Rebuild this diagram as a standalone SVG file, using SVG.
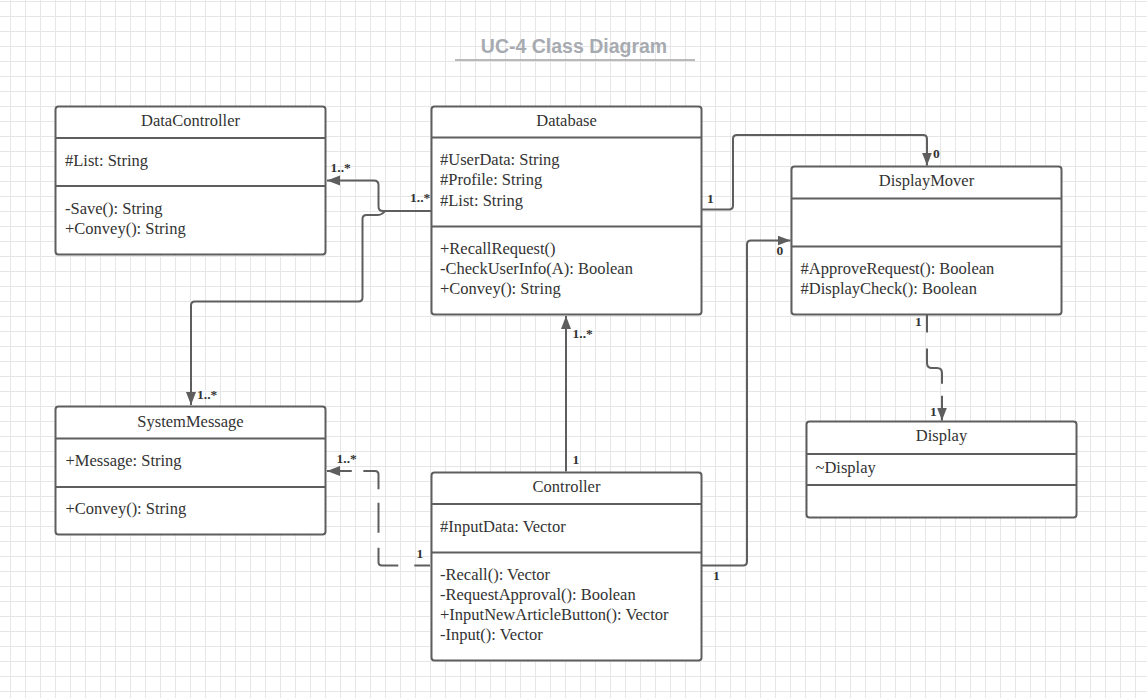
<svg xmlns="http://www.w3.org/2000/svg" width="1147" height="698" viewBox="0 0 1147 698">
<defs>
<pattern id="grid" patternUnits="userSpaceOnUse" x="10" y="1" width="15" height="15">
<rect x="0" y="0" width="1" height="15" fill="#e6e6e6"/>
<rect x="0" y="0" width="15" height="1" fill="#e6e6e6"/>
</pattern>
<marker id="arr" markerUnits="userSpaceOnUse" markerWidth="14" markerHeight="12" refX="13" refY="5" orient="auto">
<path d="M0,0 L13,5 L0,10 z" fill="#5e5e5e"/>
</marker>
</defs>
<style>
.box{fill:#ffffff;stroke:#5e5e5e;stroke-width:2}
.div{stroke:#5e5e5e;stroke-width:2}
.t{font-family:"Liberation Serif","Times New Roman",serif;font-size:16.5px;fill:#333333}
.h{text-anchor:middle}
.m{font-family:"Liberation Serif","Times New Roman",serif;font-size:13.5px;font-weight:bold;fill:#333333}
.c{fill:none;stroke:#5e5e5e;stroke-width:2}
</style>
<rect width="1147" height="698" fill="#ffffff"/>
<rect width="1147" height="698" fill="url(#grid)"/>
<g id="title">
<text x="574" y="53" text-anchor="middle" font-family="Liberation Sans, Arial, sans-serif" font-size="19.5" font-weight="bold" fill="#a7abb1">UC-4 Class Diagram</text>
<line x1="455" y1="60" x2="695" y2="60" stroke="#a3a3a3" stroke-width="1.5"/>
</g>
<g id="connectors">
<path class="c" d="M431.5,211 H383 Q378.5,211 378.5,206.5 V185 Q378.5,180.5 374,180.5 H327" marker-end="url(#arr)"/>
<path class="c" d="M385,211 Q382,215 377,215 H366.5 Q362.5,215 362.5,219 V297.5 Q362.5,301.5 358.5,301.5 H195 Q191,301.5 191,305.5 V405" marker-end="url(#arr)"/>
<path class="c" d="M701.5,209.5 H729 Q733,209.5 733,205.5 V139 Q733,135 737,135 H923 Q927,135 927,139 V165.5" marker-end="url(#arr)"/>
<path class="c" d="M701.5,565.5 H743 Q747,565.5 747,561.5 V244.5 Q747,240.5 751,240.5 H790.5" marker-end="url(#arr)"/>
<path class="c" d="M566,471.5 V316" marker-end="url(#arr)"/>
<path class="c" d="M430,565.5 H382 Q378.5,565.5 378.5,562 V474.5 Q378.5,471 375,471 H327" stroke-dasharray="15.7 16 36.1 15 30 13.4 32 11.6 200" marker-end="url(#arr)"/>
<path class="c" d="M927,314.5 V363 Q927,368 932,368 H937 Q942,368 942,373 V420.5" stroke-dasharray="18 16 46 12 200" marker-end="url(#arr)"/>
<text class="m" x="330.5" y="172">1..*</text>
<text class="m" x="410" y="202">1..*</text>
<text class="m" x="707" y="203">1</text>
<text class="m" x="933" y="158">0</text>
<text class="m" x="776.5" y="255">0</text>
<text class="m" x="713" y="580">1</text>
<text class="m" x="572.5" y="337.5">1..*</text>
<text class="m" x="572.5" y="464">1</text>
<text class="m" x="197" y="398.5">1..*</text>
<text class="m" x="336.5" y="463">1..*</text>
<text class="m" x="416.5" y="558">1</text>
<text class="m" x="915" y="326">1</text>
<text class="m" x="930" y="416">1</text>
</g>
<g id="DataController">
<rect class="box" x="55.5" y="106.5" width="270" height="148" rx="3"/>
<line class="div" x1="55.5" y1="138" x2="325.5" y2="138"/>
<line class="div" x1="55.5" y1="186" x2="325.5" y2="186"/>
<text class="t h" x="190.5" y="126">DataController</text>
<text class="t" x="65" y="166">#List: String</text>
<text class="t" x="65" y="214">-Save(): String</text>
<text class="t" x="65" y="234">+Convey(): String</text>
</g>
<g id="Database">
<rect class="box" x="431.5" y="106.5" width="270" height="208" rx="3"/>
<line class="div" x1="431.5" y1="137.5" x2="701.5" y2="137.5"/>
<line class="div" x1="431.5" y1="226.5" x2="701.5" y2="226.5"/>
<text class="t h" x="566.5" y="126">Database</text>
<text class="t" x="440" y="165">#UserData: String</text>
<text class="t" x="440" y="185">#Profile: String</text>
<text class="t" x="440" y="206">#List: String</text>
<text class="t" x="440" y="254">+RecallRequest()</text>
<text class="t" x="440" y="274">-CheckUserInfo(A): Boolean</text>
<text class="t" x="440" y="294">+Convey(): String</text>
</g>
<g id="DisplayMover">
<rect class="box" x="791.5" y="166.5" width="270" height="148" rx="3"/>
<line class="div" x1="791.5" y1="198.5" x2="1061.5" y2="198.5"/>
<line class="div" x1="791.5" y1="246.5" x2="1061.5" y2="246.5"/>
<text class="t h" x="926.5" y="186">DisplayMover</text>
<text class="t" x="800.5" y="274">#ApproveRequest(): Boolean</text>
<text class="t" x="800.5" y="294">#DisplayCheck(): Boolean</text>
</g>
<g id="SystemMessage">
<rect class="box" x="55.5" y="406.5" width="270" height="128" rx="3"/>
<line class="div" x1="55.5" y1="438.5" x2="325.5" y2="438.5"/>
<line class="div" x1="55.5" y1="487" x2="325.5" y2="487"/>
<text class="t h" x="190.5" y="427">SystemMessage</text>
<text class="t" x="65.5" y="466">+Message: String</text>
<text class="t" x="65.5" y="514">+Convey(): String</text>
</g>
<g id="Controller">
<rect class="box" x="431.5" y="472.5" width="270" height="188" rx="3"/>
<line class="div" x1="431.5" y1="504" x2="701.5" y2="504"/>
<line class="div" x1="431.5" y1="552.5" x2="701.5" y2="552.5"/>
<text class="t h" x="566.5" y="492">Controller</text>
<text class="t" x="440" y="532">#InputData: Vector</text>
<text class="t" x="440" y="580">-Recall(): Vector</text>
<text class="t" x="440" y="600">-RequestApproval(): Boolean</text>
<text class="t" x="440" y="620">+InputNewArticleButton(): Vector</text>
<text class="t" x="440" y="640">-Input(): Vector</text>
</g>
<g id="Display">
<rect class="box" x="806.5" y="421.5" width="270" height="96" rx="3"/>
<line class="div" x1="806.5" y1="454" x2="1076.5" y2="454"/>
<line class="div" x1="806.5" y1="485" x2="1076.5" y2="485"/>
<text class="t h" x="941.5" y="441">Display</text>
<text class="t" x="815.5" y="473">~Display</text>
</g>
</svg>
